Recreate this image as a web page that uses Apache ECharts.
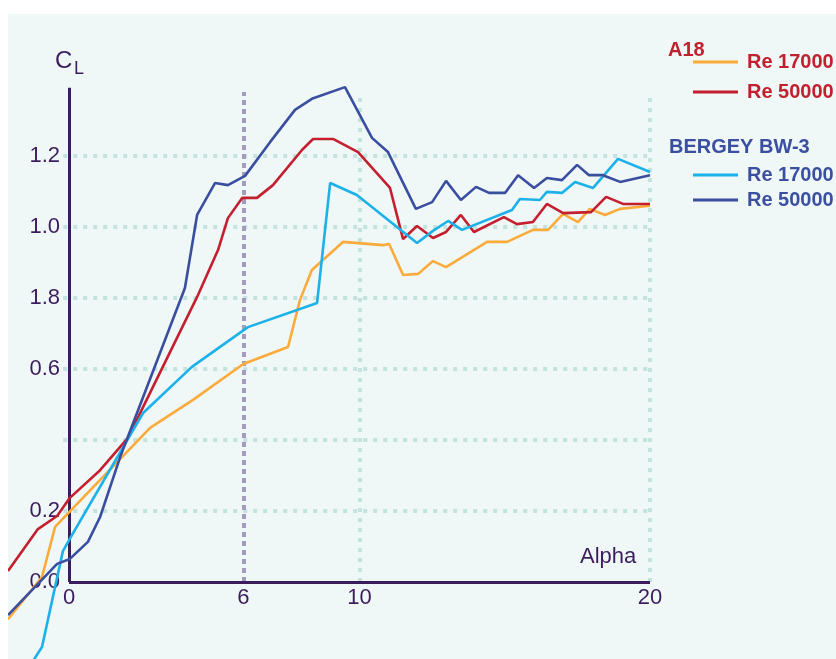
<!DOCTYPE html>
<html>
<head>
<meta charset="utf-8">
<script src="https://cdn.jsdelivr.net/npm/echarts@6/dist/echarts.min.js"></script>
<style>
html,body{margin:0;padding:0;background:#fff;width:836px;height:659px;overflow:hidden}
#c{position:absolute;left:8px;top:14px;width:828px;height:645px}
</style>
</head>
<body>
<div id="c"></div>
<script>
// ---- data (alpha, CL) ----
const a18Re17000 = [[-2.1,-0.105],[-0.93,0.014],[-0.48,0.155],[2.79,0.434],[4.27,0.513],[6.0,0.614],[7.54,0.662],[7.95,0.794],[8.36,0.879],[9.43,0.958],[10.81,0.949],[11.02,0.952],[11.5,0.865],[12.02,0.868],[12.53,0.904],[12.98,0.887],[14.39,0.958],[15.08,0.958],[15.97,0.992],[16.49,0.992],[17.01,1.037],[17.52,1.014],[17.93,1.051],[18.45,1.034],[18.97,1.051],[20,1.06]];
const a18Re50000 = [[-2.1,0.031],[-1.07,0.149],[-0.41,0.186],[0.03,0.237],[1.07,0.315],[2.03,0.406],[4.41,0.803],[5.13,0.935],[5.47,1.025],[5.96,1.082],[6.47,1.082],[7.02,1.118],[8.02,1.217],[8.4,1.248],[9.09,1.248],[9.95,1.211],[11.05,1.11],[11.5,0.966],[11.98,1.003],[12.53,0.969],[12.98,0.986],[13.49,1.034],[13.94,0.986],[14.97,1.028],[15.42,1.008],[15.97,1.014],[16.45,1.065],[17.01,1.039],[17.97,1.042],[18.49,1.085],[19.07,1.065],[20,1.065]];
const bw3Re17000 = [[-1.3,-0.23],[-0.93,-0.183],[-0.21,0.087],[0.1,0.132],[2.55,0.476],[4.23,0.606],[6.16,0.718],[8.54,0.786],[8.99,1.124],[9.91,1.09],[11.98,0.955],[12.53,0.989],[13.05,1.017],[13.53,0.992],[15.25,1.048],[15.52,1.079],[16.21,1.076],[16.45,1.099],[16.97,1.096],[17.42,1.127],[18.04,1.11],[18.9,1.192],[20,1.155]];
const bw3Re50000 = [[-2.1,-0.093],[-0.41,0.051],[0.03,0.065],[0.65,0.113],[1.07,0.183],[1.76,0.352],[3.99,0.828],[4.41,1.034],[5.03,1.124],[5.47,1.118],[6.06,1.144],[6.92,1.239],[7.78,1.33],[8.36,1.361],[9.5,1.394],[10.43,1.251],[10.98,1.211],[11.94,1.051],[12.5,1.07],[12.98,1.13],[13.49,1.076],[14.01,1.113],[14.46,1.096],[15.01,1.096],[15.46,1.146],[16.01,1.11],[16.45,1.138],[16.97,1.132],[17.49,1.175],[17.9,1.146],[18.38,1.146],[18.97,1.127],[20,1.146]];

const xTickValues = [0, 6, 10, 20];
const xTickLabels = ['0', '6', '10', '20'];
const yTickValues = [0, 0.2, 0.6, 0.8, 1.0, 1.2];
const yTickLabels = ['0.0', '0.2', '0.6', '1.8', '1.0', '1.2'];
const yGridValues = [0.2, 0.4, 0.6, 0.8, 1.0, 1.2];
const xGridValues = [10, 20];
const xMarkValue = 6;
const axisTopCL = 1.392;
const gridTopCL = 1.38;

const FONT = 'Liberation Sans, Arial, sans-serif';
const AXIS_COLOR = '#3c1d5c';
const GRID_COLOR = '#c3e3de';
// chart canvas is offset by (8,14) inside the page
const OX = 8, OY = 14;

const chart = echarts.init(document.getElementById('c'), null, {renderer: 'canvas'});

function line(name, data, color) {
  return {
    name, type: 'line', data, showSymbol: false, symbol: 'none', z: 3,
    lineStyle: {color, width: 2.6}, itemStyle: {color}, animation: false, clip: true
  };
}

const gridLines = [];
yGridValues.forEach(v => gridLines.push([{coord: [-0.2, v]}, {coord: [20, v]}]));
xGridValues.forEach(v => gridLines.push([{coord: [v, 0]}, {coord: [v, gridTopCL]}]));

const option = {
  backgroundColor: '#eff7f7',
  animation: false,
  grid: {left: 0, right: 186, top: 0, bottom: 0, show: false},
  xAxis: {
    type: 'value', min: -2.1, max: 20, position: 'bottom', offset: -77,
    axisLine: {show: false, onZero: false}, axisTick: {show: false}, splitLine: {show: false},
    axisLabel: {
      customValues: xTickValues, margin: 5, fontSize: 22, color: AXIS_COLOR, fontFamily: FONT,
      formatter: v => { const i = xTickValues.indexOf(v); return i >= 0 ? xTickLabels[i] : ''; }
    }
  },
  yAxis: {
    type: 'value', min: -77 / 355, max: 1.6, position: 'left', offset: -61,
    axisLine: {show: false, onZero: false}, axisTick: {show: false}, splitLine: {show: false},
    axisLabel: {
      customValues: yTickValues, margin: 9, fontSize: 22, color: AXIS_COLOR, fontFamily: FONT,
      padding: [0, 0, 8, 0],
      formatter: v => { const i = yTickValues.findIndex(t => Math.abs(t - v) < 1e-6); return i >= 0 ? yTickLabels[i] : ''; }
    }
  },
  title: [
    {text: 'A18', left: 668 - OX, top: 40 - OY, padding: 0, textStyle: {fontSize: 20, fontWeight: 'bold', color: '#c1202f', fontFamily: FONT}},
    {text: 'BERGEY BW-3', left: 669 - OX, top: 137 - OY, padding: 0, textStyle: {fontSize: 20, fontWeight: 'bold', color: '#3b4fa0', fontFamily: FONT}},
    {text: 'Alpha', left: 580 - OX, top: 546 - OY, padding: 0, textStyle: {fontSize: 22, fontWeight: 'normal', color: AXIS_COLOR, fontFamily: FONT}},
    {text: 'C', left: 55 - OX, top: 49 - OY, padding: 0, textStyle: {fontSize: 24, fontWeight: 'normal', color: AXIS_COLOR, fontFamily: FONT}},
    {text: 'L', left: 74 - OX, top: 60 - OY, padding: 0, textStyle: {fontSize: 18, fontWeight: 'normal', color: AXIS_COLOR, fontFamily: FONT}}
  ],
  legend: [
    {
      data: ['A18|Re 17000', 'A18|Re 50000'], orient: 'vertical', left: 693 - OX, top: 52 - OY, padding: 0,
      itemWidth: 45, itemHeight: 3, itemGap: 10, icon: 'rect', selectedMode: false,
      formatter: n => n.split('|')[1],
      textStyle: {fontSize: 20, fontWeight: 'bold', color: '#c1202f', fontFamily: FONT, padding: [0, 0, 0, 4]}
    },
    {
      data: ['BW3|Re 17000', 'BW3|Re 50000'], orient: 'vertical', left: 693 - OX, top: 165 - OY, padding: 0,
      itemWidth: 45, itemHeight: 3, itemGap: 5, icon: 'rect', selectedMode: false,
      formatter: n => n.split('|')[1],
      textStyle: {fontSize: 20, fontWeight: 'bold', color: '#3b4fa0', fontFamily: FONT, padding: [0, 0, 0, 4]}
    }
  ],
  series: [
    {
      name: 'grid', type: 'line', data: [], silent: true, z: 1,
      markLine: {
        z: 1, silent: true, symbol: ['none', 'none'], label: {show: false}, animation: false,
        lineStyle: {color: GRID_COLOR, width: 4, type: [4, 6], cap: 'butt'},
        emphasis: {disabled: true},
        data: gridLines
      }
    },
    {
      name: 'mark6', type: 'line', data: [], silent: true, z: 1,
      markLine: {
        z: 1, silent: true, symbol: ['none', 'none'], label: {show: false}, animation: false,
        lineStyle: {color: '#a39cbe', width: 4, type: [5, 4], cap: 'butt'},
        emphasis: {disabled: true},
        data: [[{coord: [xMarkValue, 0]}, {coord: [xMarkValue, gridTopCL]}]]
      }
    },
    {
      name: 'axes', type: 'line', data: [], silent: true, z: 2,
      markLine: {
        z: 2, silent: true, symbol: ['none', 'none'], label: {show: false}, animation: false,
        lineStyle: {color: AXIS_COLOR, width: 3, type: 'solid'},
        emphasis: {disabled: true},
        data: [[{coord: [0, 0]}, {coord: [0, axisTopCL]}], [{coord: [0, 0]}, {coord: [20, 0]}]]
      }
    },
    line('A18|Re 17000', a18Re17000, '#fbab3a'),
    line('A18|Re 50000', a18Re50000, '#c41f2e'),
    line('BW3|Re 17000', bw3Re17000, '#1db1ea'),
    line('BW3|Re 50000', bw3Re50000, '#3a4ea0')
  ]
};
chart.setOption(option);
</script>
</body>
</html>
